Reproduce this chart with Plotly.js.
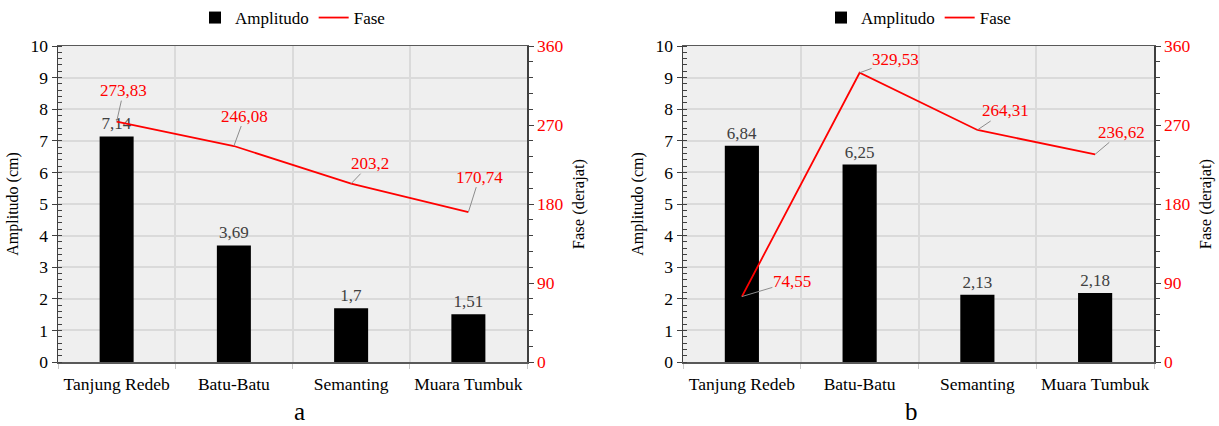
<!DOCTYPE html>
<html><head><meta charset="utf-8">
<script src="https://cdn.plot.ly/plotly-3.0.1.min.js"></script>
<style>html,body{margin:0;padding:0;background:#fff}#c{width:1219px;height:426px}</style>
</head><body><div id="c"></div>
<script>
const categories = ["Tanjung Redeb", "Batu-Batu", "Semanting", "Muara Tumbuk"];
const ampA = [7.14, 3.69, 1.7, 1.51];
const faseA = [273.83, 246.08, 203.2, 170.74];
const ampB = [6.84, 6.25, 2.13, 2.18];
const faseB = [74.55, 329.53, 264.31, 236.62];
const ampTicks = [0,1,2,3,4,5,6,7,8,9,10];
const faseTicks = [0, 90, 180, 270, 360];
const panelLabels = ["a", "b"];

const fmt = v => String(v).replace('.', ',');
const SERIF = 'Liberation Serif, Times New Roman, serif';
const H = 426, W = 1219;
const yTop = 1 - 46/H, yBot = 1 - 362/H;

function barTrace(vals, xa, ya, leg){
  return {type:'bar', x:categories, y:vals, xaxis:xa, yaxis:ya, name:'Amplitudo',
    marker:{color:'#000000'}, text:vals.map(fmt), textposition:'outside',
    textfont:{family:SERIF, size:17, color:'#404040'}, cliponaxis:false,
    legend:leg, hoverinfo:'skip'};
}
function lineTrace(vals, xa, ya, leg){
  return {type:'scatter', mode:'lines', x:categories, y:vals, xaxis:xa, yaxis:ya, name:'Fase',
    line:{color:'#ff0000', width:1.8}, legend:leg, hoverinfo:'skip'};
}

const data = [
  barTrace(ampA, 'x', 'y', 'legend'), lineTrace(faseA, 'x', 'y2', 'legend'),
  barTrace(ampB, 'x2', 'y3', 'legend2'), lineTrace(faseB, 'x2', 'y4', 'legend2')
];

function xAxis(d, anchor){
  return {domain:d, anchor:anchor, type:'category', showgrid:true, gridcolor:'#dadada', gridwidth:2,
    tickson:'boundaries', ticks:'outside', ticklen:5, tickcolor:'#c8c8c8', tickangle:0,
    ticklabelstandoff:5,
    showline:true, linecolor:'#595959', linewidth:1.5, mirror:true,
    tickfont:{family:SERIF, size:17.5, color:'#000'}, zeroline:false, fixedrange:true};
}
function yLeft(anchor){
  return {domain:[yBot, yTop], anchor:anchor, range:[0,10], tickvals:ampTicks,
    showgrid:true, gridcolor:'#dadada', gridwidth:2, zeroline:false,
    showline:true, linecolor:'#404040', linewidth:1.5,
    ticks:'outside', ticklen:5, tickcolor:'#404040',
    minor:{dtick:0.2, ticks:'inside', ticklen:4, tickcolor:'#404040', showgrid:false},
    tickfont:{family:SERIF, size:17.5, color:'#000'},
    title:{text:'Amplitudo (cm)', font:{family:SERIF, size:16, color:'#000'}, standoff:8}};
}
function yRight(overlay, anchor){
  return {overlaying:overlay, anchor:anchor, side:'right', range:[0,360], tickvals:faseTicks,
    showgrid:false, zeroline:false, showline:true, linecolor:'#404040', linewidth:1.5,
    ticks:'outside', ticklen:5, tickcolor:'#404040',
    minor:{dtick:18, ticks:'outside', ticklen:4, tickcolor:'#404040', showgrid:false},
    tickfont:{family:SERIF, size:17.5, color:'#ff0000'},
    title:{text:'Fase (derajat)', font:{family:SERIF, size:16.5, color:'#000'}, standoff:10}};
}

const dA = [58/W, 527/W], dB = [683/W, 1154/W];

// label offsets (px) from the point; every label has a grey leader line
const offA = [[7,-31],[11,-30],[19,-20],[11,-35]];
const offB = [[50,-15],[36,-13],[28,-19],[26,-22]];
const annotations = [];
function addPhaseLabels(vals, offs, xr, yr){
  vals.forEach((v,i)=>{
    const o = offs[i];
    annotations.push({x:categories[i], y:v, xref:xr, yref:yr, text:fmt(v),
      showarrow:true, ax:o[0], ay:o[1], arrowhead:0, arrowwidth:1,
      arrowcolor:'#8c8c8c', standoff:0, borderpad:0,
      font:{family:SERIF, size:17, color:'#ff0000'}});
  });
}
addPhaseLabels(faseA, offA, 'x', 'y2');
addPhaseLabels(faseB, offB, 'x2', 'y4');
annotations.push({x:(dA[0]+dA[1])/2, y:0, yanchor:'bottom', xref:'paper', yref:'paper', text:panelLabels[0],
  showarrow:false, borderpad:0, font:{family:SERIF, size:25, color:'#000'}});
annotations.push({x:(dB[0]+dB[1])/2, y:0, yanchor:'bottom', xref:'paper', yref:'paper', text:panelLabels[1],
  showarrow:false, borderpad:0, font:{family:SERIF, size:25, color:'#000'}});

const legendBase = {orientation:'h', yanchor:'middle', y:1-18/H, xanchor:'center',
  font:{family:SERIF, size:17, color:'#000'}, bgcolor:'rgba(0,0,0,0)', itemwidth:30, tracegroupgap:0};

const layout = {
  width:W, height:H, margin:{l:0, r:0, t:0, b:0},
  paper_bgcolor:'#ffffff', plot_bgcolor:'#efefef',
  bargap:0.71, showlegend:true,
  legend:Object.assign({}, legendBase, {x:(dA[0]+dA[1])/2}),
  legend2:Object.assign({}, legendBase, {x:(dB[0]+dB[1])/2}),
  xaxis:xAxis(dA, 'y'), yaxis:yLeft('x'), yaxis2:yRight('y', 'x'),
  xaxis2:xAxis(dB, 'y3'), yaxis3:yLeft('x2'), yaxis4:yRight('y3', 'x2'),
  annotations:annotations,
  font:{family:SERIF}
};
Plotly.newPlot('c', data, layout, {displayModeBar:false, staticPlot:true});
</script></body></html>
